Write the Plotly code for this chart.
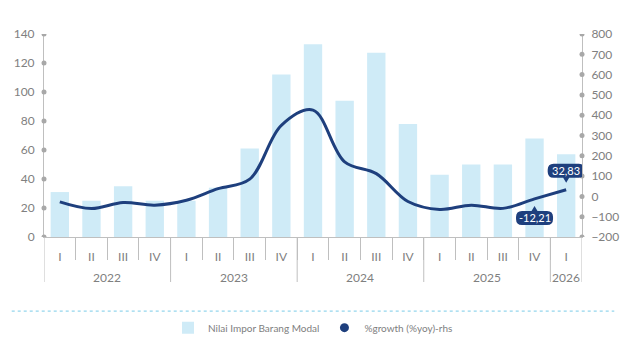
import plotly.graph_objects as go

# Quarterly series, 2022 Q1 .. 2026 Q1
years = ["2022"] * 4 + ["2023"] * 4 + ["2024"] * 4 + ["2025"] * 4 + ["2026"]
quarters = ["I", "II", "III", "IV"] * 4 + ["I"]
impor_values = [31, 25, 35, 25, 25, 34, 61, 112, 133, 94, 127, 78, 43, 50, 50, 68, 57]
growth_values = [-27, -60, -30, -43, -19, 38, 85, 350, 425, 170, 112, -25, -64, -43, -59, -12.21, 32.83]

left_ticks = [0, 20, 40, 60, 80, 100, 120, 140]
right_ticks = [-200, -100, 0, 100, 200, 300, 400, 500, 600, 700, 800]

BAR = "#CFEBF7"
NAVY = "#1E3F7D"
GREY_LINE = "#BFBFBF"
GREY_DOT = "#A8A8A8"
GREY_TEXT = "#808080"
FONT = "Lato"

pos = list(range(len(quarters)))

fig = go.Figure()

fig.add_trace(go.Bar(
    x=pos, y=impor_values, name="Nilai Impor Barang Modal",
    marker=dict(color=BAR, line=dict(width=0)), yaxis="y",
))
fig.add_trace(go.Scatter(
    x=pos, y=growth_values, name="%growth (%yoy)-rhs",
    mode="lines", line=dict(color=NAVY, width=3, shape="spline", smoothing=1),
    yaxis="y2", showlegend=False,
))
# legend entry drawn as a dot for the growth line
fig.add_trace(go.Scatter(
    x=[None], y=[None], mode="markers", name="%growth (%yoy)-rhs",
    marker=dict(color=NAVY, size=9, symbol="circle"), yaxis="y2",
))

shapes = []
annotations = []

# dots on the tick positions of both value axes
for t in left_ticks:
    shapes.append(dict(type="circle", xref="paper", yref="y", xsizemode="pixel", ysizemode="pixel",
                       xanchor=0, yanchor=t, x0=-2.5, x1=2.5, y0=-2.5, y1=2.5,
                       fillcolor=GREY_DOT, line=dict(width=0), layer="above"))
for t in right_ticks:
    shapes.append(dict(type="circle", xref="paper", yref="y2", xsizemode="pixel", ysizemode="pixel",
                       xanchor=1, yanchor=t, x0=-2.5, x1=2.5, y0=-2.5, y1=2.5,
                       fillcolor=GREY_DOT, line=dict(width=0), layer="above"))

# year groups: long dividers at the group edges and a centred year label
edges = [0] + [i for i in range(1, len(years)) if years[i] != years[i - 1]] + [len(years)]
for a, b in zip(edges[:-1], edges[1:]):
    annotations.append(dict(x=(a + b - 1) / 2, y=0, xref="x", yref="paper", yanchor="middle",
                            text=years[a], showarrow=False, yshift=-40,
                            font=dict(family=FONT, size=12, color=GREY_TEXT)))
for e in edges:
    shapes.append(dict(type="line", xref="x", yref="paper", ysizemode="pixel", yanchor=0,
                       x0=e - 0.5, x1=e - 0.5, y0=0, y1=-45,
                       line=dict(color=GREY_LINE, width=1)))

# dotted separator above the legend
shapes.append(dict(type="line", xref="paper", yref="paper", x0=-0.06, x1=1.06, y0=-0.365, y1=-0.365,
                   line=dict(color="#7ACBE8", width=1, dash="dot")))


def callout_path(w, h, r, gap, tip, above):
    """Rounded box with a small pointer, in pixels relative to the anchor point."""
    hw = w / 2
    if above:
        bot, top = gap + tip, gap + tip + h
        p = [
            f"M {-hw + r},{top}", f"L {hw - r},{top}", f"Q {hw},{top} {hw},{top - r}",
            f"L {hw},{bot + r}", f"Q {hw},{bot} {hw - r},{bot}",
            f"L 3,{bot}", f"L 0,{gap}", f"L -3,{bot}",
            f"L {-hw + r},{bot}", f"Q {-hw},{bot} {-hw},{bot + r}",
            f"L {-hw},{top - r}", f"Q {-hw},{top} {-hw + r},{top}",
        ]
    else:
        top, bot = -(gap + tip), -(gap + tip + h)
        p = [
            f"M {-hw + r},{top}", f"L -3,{top}", f"L 0,{-gap}", f"L 3,{top}",
            f"L {hw - r},{top}", f"Q {hw},{top} {hw},{top - r}",
            f"L {hw},{bot + r}", f"Q {hw},{bot} {hw - r},{bot}",
            f"L {-hw + r},{bot}", f"Q {-hw},{bot} {-hw},{bot + r}",
            f"L {-hw},{top - r}", f"Q {-hw},{top} {-hw + r},{top}",
        ]
    return " ".join(p) + " Z"


labelled = [(len(growth_values) - 2, False), (len(growth_values) - 1, True)]
for idx, above in labelled:
    v = growth_values[idx]
    shapes.append(dict(type="path", xref="x", yref="y2", xsizemode="pixel", ysizemode="pixel",
                       xanchor=idx, yanchor=v, path=callout_path(37, 14, 6, 7, 5, above),
                       fillcolor=NAVY, line=dict(width=0), layer="above"))
    annotations.append(dict(x=idx, y=v, xref="x", yref="y2", text=f"{v:.2f}".replace(".", ","),
                            showarrow=False, yshift=19 if above else -19,
                            font=dict(family=FONT, size=11, color="white")))

fig.update_layout(
    width=625, height=338,
    margin=dict(l=44, r=43, t=34, b=101, autoexpand=False),
    paper_bgcolor="white", plot_bgcolor="white",
    font=dict(family=FONT, color=GREY_TEXT, size=12),
    bargap=0.42,
    showlegend=True,
    legend=dict(orientation="h", x=0.5, xanchor="center", y=-0.375, yanchor="top",
                font=dict(family=FONT, size=10, color=GREY_TEXT), itemwidth=30),
    xaxis=dict(
        range=[-0.5, len(pos) - 0.5], tickvals=pos, ticktext=quarters,
        showline=True, linecolor=GREY_LINE, linewidth=1, ticks="",
        minor=dict(tickvals=[p - 0.5 for p in pos[1:]], ticks="outside", ticklen=22,
                   tickcolor=GREY_LINE, showgrid=False),
        tickfont=dict(family=FONT, size=12, color=GREY_TEXT),
        showgrid=False, zeroline=False, ticklabelstandoff=9,
    ),
    yaxis=dict(
        range=[0, 140], tickvals=left_ticks, showline=True, linecolor=GREY_LINE, linewidth=1,
        showgrid=False, zeroline=False, ticks="", tickfont=dict(family=FONT, size=12, color=GREY_TEXT),
        ticklabelstandoff=6,
    ),
    yaxis2=dict(
        range=[-200, 800], tickvals=right_ticks, overlaying="y", side="right",
        showline=True, linecolor=GREY_LINE, linewidth=1, showgrid=False, zeroline=False, ticks="",
        tickfont=dict(family=FONT, size=12, color=GREY_TEXT), ticklabelstandoff=6,
    ),
    shapes=shapes,
    annotations=annotations,
)

fig.write_html("out.html")
